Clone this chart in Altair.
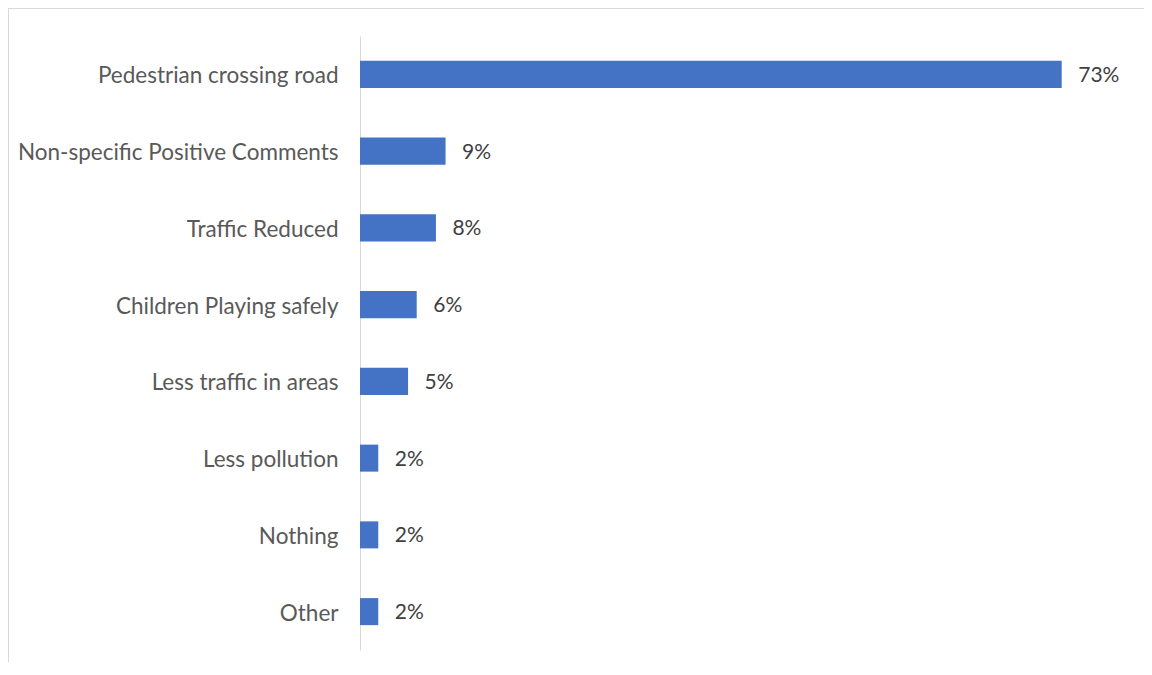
import altair as alt
import pandas as pd

categories = [
    "Pedestrian crossing road",
    "Non-specific Positive Comments",
    "Traffic Reduced",
    "Children Playing safely",
    "Less traffic in areas",
    "Less pollution",
    "Nothing",
    "Other",
]
values = [73.0, 8.9, 7.9, 5.9, 5.0, 1.9, 1.9, 1.9]
labels = ["73%", "9%", "8%", "6%", "5%", "2%", "2%", "2%"]

df = pd.DataFrame({"category": categories, "value": values, "label": labels})

FONT = "Lato"

y_enc = alt.Y(
    "category:N",
    sort=categories,
    scale=alt.Scale(paddingInner=0.648, paddingOuter=0.324),
    axis=alt.Axis(
        title=None,
        ticks=False,
        domain=True,
        domainColor="#d9d9d9",
        domainWidth=1,
        labelFont=FONT,
        labelFontSize=22.5,
        labelColor="#595959",
        labelPadding=22,
        labelLimit=500,
        labelOffset=2,
    ),
)
x_enc = alt.X(
    "value:Q",
    scale=alt.Scale(domain=[0, 80], nice=False),
    axis=None,
)

bars = alt.Chart(df).mark_bar(color="#4472c4").encode(y=y_enc, x=x_enc)

text = alt.Chart(df).mark_text(
    align="left", baseline="middle", dx=16.5, dy=1.5, font=FONT, fontSize=21, color="#404040"
).encode(y=alt.Y("category:N", sort=categories), x="value:Q", text="label:N")

border_top = alt.Chart(df).mark_rule(color="#d9d9d9", strokeWidth=1).encode(
    x=alt.value(-351.5), x2=alt.value(1000), y=alt.value(-27.5)
)
border_left = alt.Chart(df).mark_rule(color="#d9d9d9", strokeWidth=1).encode(
    x=alt.value(-351.5), y=alt.value(-27.5), y2=alt.value(1000)
)

chart = (
    alt.layer(border_top, border_left, bars, text)
    .properties(
        width=769,
        height=614,
        autosize=alt.AutoSizeParams(type="none"),
        padding={"left": 352, "top": 28, "right": 15, "bottom": 12},
        background="white",
    )
    .configure_view(stroke=None)
)

chart.save("out.html", embed_options={"renderer": "svg", "actions": False})
